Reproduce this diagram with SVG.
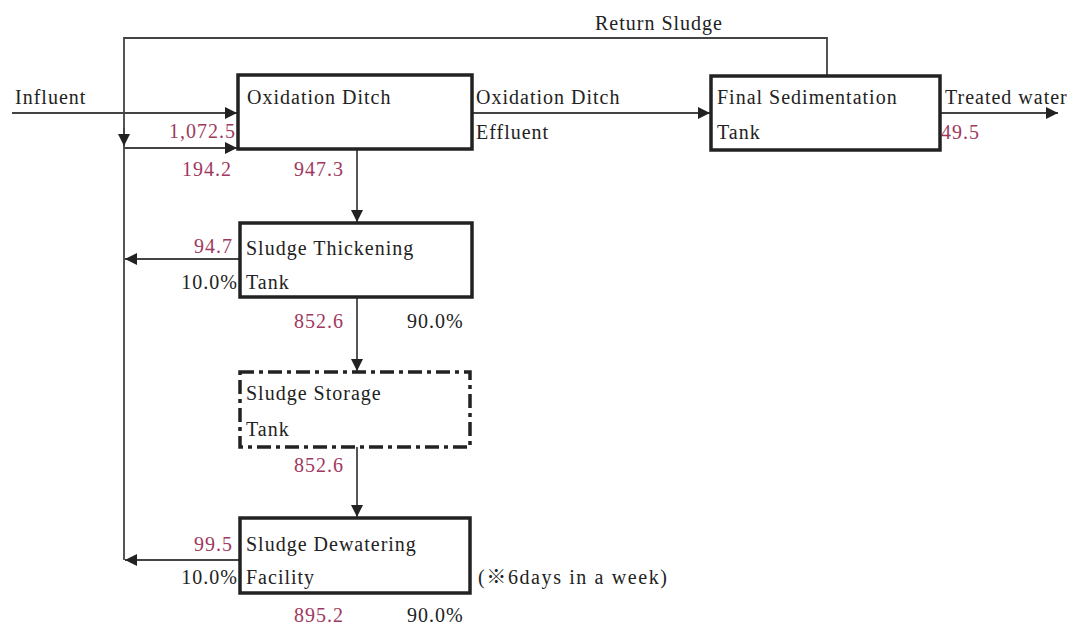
<svg xmlns="http://www.w3.org/2000/svg" width="1078" height="628" viewBox="0 0 1078 628">
<defs>
<style>
text{font-family:"Liberation Serif","Times New Roman","Noto Sans CJK JP",serif;font-size:20px;fill:#222;letter-spacing:1px}
.n{fill:#a0385e}
.r{text-anchor:end}
.box{fill:#fff;stroke:#222;stroke-width:3.5}
.dash{fill:#fff;stroke:#222;stroke-width:3.5;stroke-dasharray:14 5 4 5}
.ln{fill:none;stroke:#444;stroke-width:1.8}
</style>
<marker id="ahb" viewBox="0 0 10 10" refX="10" refY="5" markerWidth="12" markerHeight="12" markerUnits="userSpaceOnUse" orient="auto">
<path d="M0,0 L10,5 L0,10 z" fill="#222"/>
</marker>
</defs>
<g id="connectors">
<path class="ln" d="M827,75 V38 H124 V560"/>
<path class="ln" d="M124,128 V146" marker-end="url(#ahb)"/>
<path class="ln" d="M12,113 H237" marker-end="url(#ahb)"/>
<path class="ln" d="M124,148 H237" marker-end="url(#ahb)"/>
<path class="ln" d="M472,113 H710" marker-end="url(#ahb)"/>
<path class="ln" d="M940,113 H1058" marker-end="url(#ahb)"/>
<path class="ln" d="M357,150 V222" marker-end="url(#ahb)"/>
<path class="ln" d="M240,259 H125" marker-end="url(#ahb)"/>
<path class="ln" d="M357,297 V371" marker-end="url(#ahb)"/>
<path class="ln" d="M357,447 V517" marker-end="url(#ahb)"/>
<path class="ln" d="M240,560 H125" marker-end="url(#ahb)"/>
</g>
<g id="labels">
<text x="595" y="30">Return Sludge</text>
<text x="15" y="104">Influent</text>
<text class="n r" x="236" y="138">1,072.5</text>
<text class="n r" x="232" y="176">194.2</text>
<text class="n" x="294" y="176">947.3</text>
<text x="476" y="104">Oxidation Ditch</text>
<text x="476" y="139">Effluent</text>
<text x="945" y="104">Treated water</text>
<text class="n" x="941" y="139">49.5</text>
<text class="n r" x="233" y="253">94.7</text>
<text class="r" x="238" y="289">10.0%</text>
<text class="n" x="294" y="328">852.6</text>
<text x="407" y="328">90.0%</text>
<text class="n" x="294" y="472">852.6</text>
<text class="n r" x="233" y="551">99.5</text>
<text class="r" x="238" y="584">10.0%</text>
<text x="478" y="584" textLength="190" lengthAdjust="spacing">(※6days in a week)</text>
<text class="n" x="294" y="622">895.2</text>
<text x="407" y="622">90.0%</text>
</g>
<g id="oxidation-ditch">
<rect class="box" x="238" y="75" width="234" height="74"/>
<text x="247" y="104">Oxidation Ditch</text>
</g>
<g id="final-sedimentation">
<rect class="box" x="711" y="76" width="229" height="74"/>
<text x="717" y="104">Final Sedimentation</text>
<text x="717" y="139">Tank</text>
</g>
<g id="thickening">
<rect class="box" x="240" y="223" width="232" height="74"/>
<text x="246" y="255">Sludge Thickening</text>
<text x="246" y="289">Tank</text>
</g>
<g id="storage">
<rect class="dash" x="240" y="372" width="230" height="75"/>
<text x="246" y="400">Sludge Storage</text>
<text x="246" y="436">Tank</text>
</g>
<g id="dewatering">
<rect class="box" x="240" y="518" width="230" height="75"/>
<text x="246" y="551">Sludge Dewatering</text>
<text x="246" y="584">Facility</text>
</g>
</svg>
